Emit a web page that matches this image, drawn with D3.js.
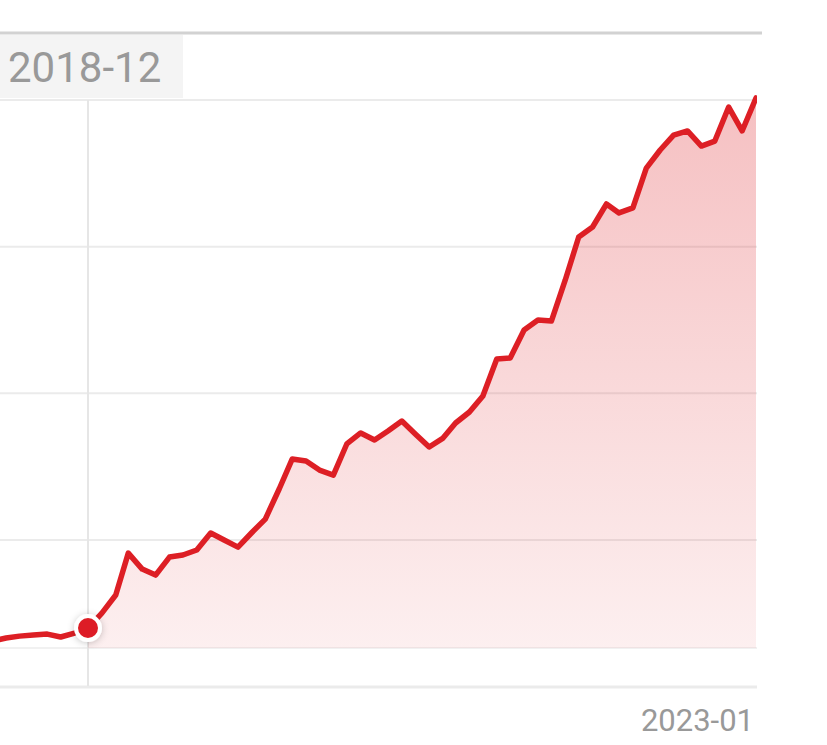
<!DOCTYPE html>
<html>
<head>
<meta charset="utf-8">
<script src="https://cdn.jsdelivr.net/npm/d3@7"></script>
<style>
  html, body { margin: 0; padding: 0; background: #ffffff; }
  svg { display: block; }
</style>
</head>
<body>
<svg id="chart" width="827" height="745"></svg>
<script>
// ---- data ----
const startMonth = "2018-05";            // first monthly point
const values = [
  3.11, 3.32, 3.45, 3.52, 3.59, 3.39, 3.66,          // 2018-05 .. 2018-11
  4.00, 5.02, 6.25, 9.11, 8.02, 7.61, 8.84, 8.98,    // 2018-12 ..
  9.32, 10.48, 10.00, 9.52, 10.48, 11.43, 13.48, 15.52,
  15.39, 14.77, 14.43, 16.55, 17.30, 16.82, 17.43, 18.11,
  17.23, 16.34, 16.95, 17.98, 18.73, 19.82, 22.34, 22.41,
  24.32, 25.00, 24.93, 27.73, 30.66, 31.34, 32.91, 32.30,
  32.64, 35.36, 36.59, 37.61, 37.89, 36.86, 37.20, 39.52,
  37.89, 40.14                                        // .. 2023-01
];
const yTicks = [10, 20, 30, 40];
const yMin = 2.64;
const highlightLabel = "2018-12";
const xAxisLabel = "2023-01";

// ---- build ----
const parse = d3.timeParse("%Y-%m");
const fmt = d3.timeFormat("%Y-%m");
const dates = d3.timeMonth.range(parse(startMonth), d3.timeMonth.offset(parse(startMonth), values.length));
const data = dates.map((d, i) => ({ date: d, value: values[i] }));
const hiIdx = data.findIndex(d => fmt(d.date) === highlightLabel);

const svg = d3.select("#chart");
const plotRight = 757, plotBottom = 648;

const x = d3.scaleTime()
  .domain([parse(highlightLabel), parse(xAxisLabel)])
  .range([88, 756]);
const y = d3.scaleLinear()
  .domain([yMin, 40])
  .range([plotBottom, 100]);

const red = "#dd1f25";

// defs
const defs = svg.append("defs");
const grad = defs.append("linearGradient")
  .attr("id", "areaGrad").attr("gradientUnits", "userSpaceOnUse")
  .attr("x1", 0).attr("x2", 0).attr("y1", y(40)).attr("y2", plotBottom);
grad.append("stop").attr("offset", 0).attr("stop-color", red).attr("stop-opacity", 0.28);
grad.append("stop").attr("offset", 1).attr("stop-color", red).attr("stop-opacity", 0.07);

const shadow = defs.append("filter").attr("id", "dotShadow")
  .attr("x", "-100%").attr("y", "-100%").attr("width", "300%").attr("height", "300%");
shadow.append("feDropShadow").attr("dx", 0).attr("dy", 1).attr("stdDeviation", 3.5)
  .attr("flood-color", "#000").attr("flood-opacity", 0.22);

defs.append("clipPath").attr("id", "plotClip")
  .append("rect").attr("x", 0).attr("y", 0).attr("width", plotRight).attr("height", 745);

// top border
svg.append("line").attr("x1", 0).attr("x2", 762).attr("y1", 33).attr("y2", 33)
  .attr("stroke", "#d2d2d2").attr("stroke-width", 3);

// grid lines
svg.append("g").selectAll("line").data(yTicks).join("line")
  .attr("x1", 0).attr("x2", plotRight)
  .attr("y1", d => y(d)).attr("y2", d => y(d))
  .attr("stroke", "#ebebeb").attr("stroke-width", 2);
svg.append("line").attr("x1", 0).attr("x2", plotRight)
  .attr("y1", plotBottom).attr("y2", plotBottom)
  .attr("stroke", "#ededed").attr("stroke-width", 1.5);
// x axis line
svg.append("line").attr("x1", 0).attr("x2", plotRight)
  .attr("y1", 687).attr("y2", 687)
  .attr("stroke", "#ebebeb").attr("stroke-width", 3);

// crosshair
svg.append("line")
  .attr("x1", x(data[hiIdx].date)).attr("x2", x(data[hiIdx].date))
  .attr("y1", 100).attr("y2", 686)
  .attr("stroke", "#e6e6e6").attr("stroke-width", 2);

const g = svg.append("g").attr("clip-path", "url(#plotClip)");

// area (from highlighted point onward)
const area = d3.area()
  .x(d => x(d.date)).y0(plotBottom).y1(d => y(d.value));
g.append("path").datum(data.slice(hiIdx))
  .attr("d", area).attr("fill", "url(#areaGrad)");

// line
const line = d3.line().x(d => x(d.date)).y(d => y(d.value));
g.append("path").datum(data)
  .attr("d", line).attr("fill", "none")
  .attr("stroke", red).attr("stroke-width", 5.5)
  .attr("stroke-linejoin", "round").attr("stroke-linecap", "round");

// highlighted dot
svg.append("circle")
  .attr("cx", x(data[hiIdx].date)).attr("cy", y(data[hiIdx].value))
  .attr("r", 12).attr("fill", red)
  .attr("stroke", "#fff").attr("stroke-width", 4)
  .attr("filter", "url(#dotShadow)");

// tooltip label box
svg.append("rect").attr("x", 0).attr("y", 35).attr("width", 183).attr("height", 63)
  .attr("fill", "#f4f4f4");
svg.append("text").attr("x", 8).attr("y", 82)
  .attr("font-family", "Roboto, 'Noto Sans', sans-serif").attr("font-size", 42)
  .attr("fill", "#999999").text(highlightLabel);

// x axis end label
svg.append("text").attr("x", 754).attr("y", 731)
  .attr("text-anchor", "end")
  .attr("font-family", "Roboto, 'Noto Sans', sans-serif").attr("font-size", 31)
  .attr("fill", "#999999").text(xAxisLabel);
</script>
</body>
</html>
